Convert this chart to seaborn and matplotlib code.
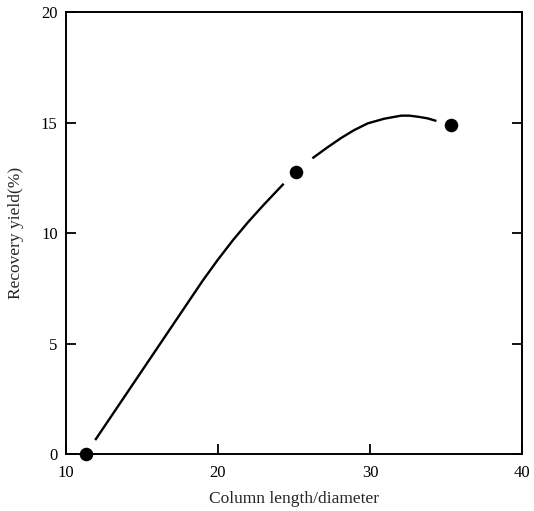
import matplotlib
matplotlib.use("Agg")
import matplotlib.pyplot as plt
import seaborn as sns
import pandas as pd

# Measured data points
ratio = [11.3, 25.15, 35.3]
yield_pct = [0.0, 12.75, 14.9]

# Fitted curve (two segments, gap around middle point)
curve1_x = [11.92, 13.5, 15.0, 16.5, 18.0, 19.0, 20.0, 21.0, 22.0, 23.0, 24.32]
curve1_y = [0.63, 2.24, 3.77, 5.30, 6.83, 7.85, 8.80, 9.69, 10.51, 11.27, 12.23]
curve2_x = [26.21, 27.15, 28.08, 28.94, 29.85, 30.93, 32.05, 32.58, 33.16, 33.77, 34.37]
curve2_y = [13.38, 13.85, 14.29, 14.65, 14.96, 15.17, 15.31, 15.31, 15.26, 15.19, 15.07]

x_ticks = [10, 20, 30, 40]
y_ticks = [0, 5, 10, 15, 20]

sns.set_theme(style="white")
plt.rcParams["font.family"] = ["Liberation Serif", "DejaVu Serif"]

curve = pd.DataFrame({
    "x": curve1_x + curve2_x,
    "y": curve1_y + curve2_y,
    "seg": [1] * len(curve1_x) + [2] * len(curve2_x),
})
pts = pd.DataFrame({"x": ratio, "y": yield_pct})

fig = plt.figure(figsize=(5.34, 5.11), dpi=100)
ax = fig.add_axes([66 / 534, 1 - 454 / 511, (522 - 66) / 534, (454 - 12) / 511])

sns.lineplot(data=curve, x="x", y="y", units="seg", estimator=None,
             color="black", linewidth=1.7, ax=ax, sort=False,
             solid_joinstyle="round", solid_capstyle="butt")
sns.scatterplot(data=pts, x="x", y="y", color="black", s=95,
                edgecolor="black", linewidth=0, ax=ax, zorder=5, clip_on=False)

ax.set_xlim(10, 40)
ax.set_ylim(0, 20)
ax.set_xticks(x_ticks)
ax.set_yticks(y_ticks)
ax.set_xticklabels([str(t) for t in x_ticks])
ax.set_yticklabels([str(t) for t in y_ticks])

for s in ax.spines.values():
    s.set_visible(True)
    s.set_color("black")
    s.set_linewidth(1.4)

ax.tick_params(axis="both", which="both", direction="in", length=7, width=1.3,
               colors="black", labelsize=12)
ax.tick_params(axis="y", left=True, right=True, pad=6)
ax.tick_params(axis="x", bottom=True, top=False, pad=8)

ax.set_xlabel("Column length/diameter", fontsize=12.5, labelpad=7)
ax.set_ylabel("Recovery yield(%)", fontsize=12.5, labelpad=12)

fig.savefig("out.png", dpi=100)
